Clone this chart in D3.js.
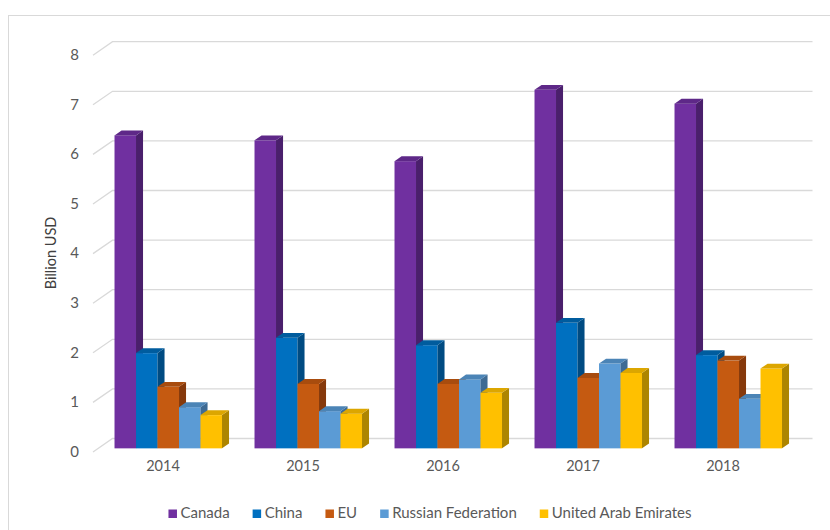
<!DOCTYPE html>
<html>
<head>
<meta charset="utf-8">
<script src="https://cdn.jsdelivr.net/npm/d3@7"></script>
<style>
  html, body { margin: 0; padding: 0; background: #ffffff; }
  svg { display: block; font-family: Lato, "Open Sans", "Liberation Sans", sans-serif; }
</style>
</head>
<body>
<svg id="chart" width="830" height="530"></svg>
<script>
// Annual values, billion USD
const years = ["2014", "2015", "2016", "2017", "2018"];
const seriesNames = ["Canada", "China", "EU", "Russian Federation", "United Arab Emirates"];
const canada = [6.31, 6.21, 5.79, 7.23, 6.95];
const china = [1.92, 2.23, 2.08, 2.53, 1.88];
const eu = [1.24, 1.30, 1.30, 1.42, 1.77];
const russia = [0.83, 0.75, 1.39, 1.71, 1.00];
const uae = [0.67, 0.70, 1.12, 1.52, 1.61];
const yTicks = [0, 1, 2, 3, 4, 5, 6, 7, 8];

const seriesValues = [canada, china, eu, russia, uae];

// front, top and side face colours for each series
const faceColors = [
  { front: "#7030a0", top: "#5e2888", side: "#4a1f6c" },
  { front: "#0070c0", top: "#005c9e", side: "#004b82" },
  { front: "#c55a11", top: "#a84c0e", side: "#86390b" },
  { front: "#5b9bd5", top: "#4b84b6", side: "#3e6b94" },
  { front: "#ffc000", top: "#dca600", side: "#ad8500" }
];

const svg = d3.select("#chart");

// chart frame
svg.append("rect")
  .attr("x", 8.5).attr("y", 15.5)
  .attr("width", 840).attr("height", 540)
  .attr("fill", "#ffffff")
  .attr("stroke", "#d9d9d9").attr("stroke-width", 1);

// oblique projection: depth vector for the full floor depth
const DX = 19.5, DY = -13.5;
const barFront = 0.27, barBack = 0.63;

const y = d3.scaleLinear().domain([0, 8]).range([452, 55.2]);
const x0 = d3.scaleBand().domain(years).range([93, 793]);
const x1 = d3.scaleBand().domain(seriesNames).range([16.25, 123.75]);

// wall gridlines: side wall diagonal + back wall horizontal
const grid = svg.append("g");
yTicks.forEach(t => {
  const yf = y(t);
  grid.append("polyline")
    .attr("points", [[93, yf], [93 + DX, yf + DY], [793 + DX, yf + DY]].map(p => p.join(",")).join(" "))
    .attr("fill", "none")
    .attr("stroke", "#d9d9d9")
    .attr("stroke-width", 1.3);
});

// value axis labels
svg.append("g").selectAll("text")
  .data(yTicks)
  .join("text")
  .attr("x", 79)
  .attr("y", d => y(d) + 1)
  .attr("text-anchor", "end")
  .attr("dominant-baseline", "middle")
  .attr("fill", "#595959")
  .attr("font-size", 15)
  .text(d => d);

// axis title
svg.append("text")
  .attr("transform", "translate(52,253) rotate(-90)")
  .attr("text-anchor", "middle")
  .attr("dominant-baseline", "middle")
  .attr("fill", "#404040")
  .attr("font-size", 14.5)
  .text("Billion USD");

// 3D columns
const bars = svg.append("g");
const ddx = (barBack - barFront) * DX, ddy = (barBack - barFront) * DY;
years.forEach((yr, i) => {
  seriesNames.forEach((s, j) => {
    const v = seriesValues[j][i];
    const c = faceColors[j];
    const w = x1.bandwidth();
    const xl = x0(yr) + x1(s) + barFront * DX;
    const xr = xl + w;
    const yt = y(v) + barFront * DY;
    const yb = y(0) + barFront * DY;
    const g = bars.append("g");
    g.append("rect")
      .attr("x", xl).attr("y", yt)
      .attr("width", w).attr("height", yb - yt)
      .attr("fill", c.front);
    g.append("polygon")
      .attr("points", [[xr, yt], [xr + ddx, yt + ddy], [xr + ddx, yb + ddy], [xr, yb]].map(p => p.join(",")).join(" "))
      .attr("fill", c.side);
    g.append("polygon")
      .attr("points", [[xl, yt], [xl + ddx, yt + ddy], [xr + ddx, yt + ddy], [xr, yt]].map(p => p.join(",")).join(" "))
      .attr("fill", c.top);
  });
});

// category labels
svg.append("g").selectAll("text")
  .data(years)
  .join("text")
  .attr("x", d => x0(d) + x0.bandwidth() / 2)
  .attr("y", 467)
  .attr("text-anchor", "middle")
  .attr("dominant-baseline", "middle")
  .attr("fill", "#595959")
  .attr("font-size", 14.5)
  .text(d => d);

// legend, centred under the plot
const legend = svg.append("g");
const items = seriesNames.map((s, j) => {
  const g = legend.append("g");
  g.append("rect").attr("x", 0).attr("y", -4.5).attr("width", 8.5).attr("height", 8.5).attr("fill", faceColors[j].front);
  const t = g.append("text")
    .attr("x", 12).attr("y", 0.5)
    .attr("dominant-baseline", "middle")
    .attr("fill", "#595959")
    .attr("font-size", 15)
    .text(s);
  return { g, w: 12 + t.node().getComputedTextLength() };
});
const gap = 23;
const total = d3.sum(items, d => d.w) + gap * (items.length - 1);
let lx = 430 - total / 2;
items.forEach(it => {
  it.g.attr("transform", `translate(${lx},514)`);
  lx += it.w + gap;
});
</script>
</body>
</html>
